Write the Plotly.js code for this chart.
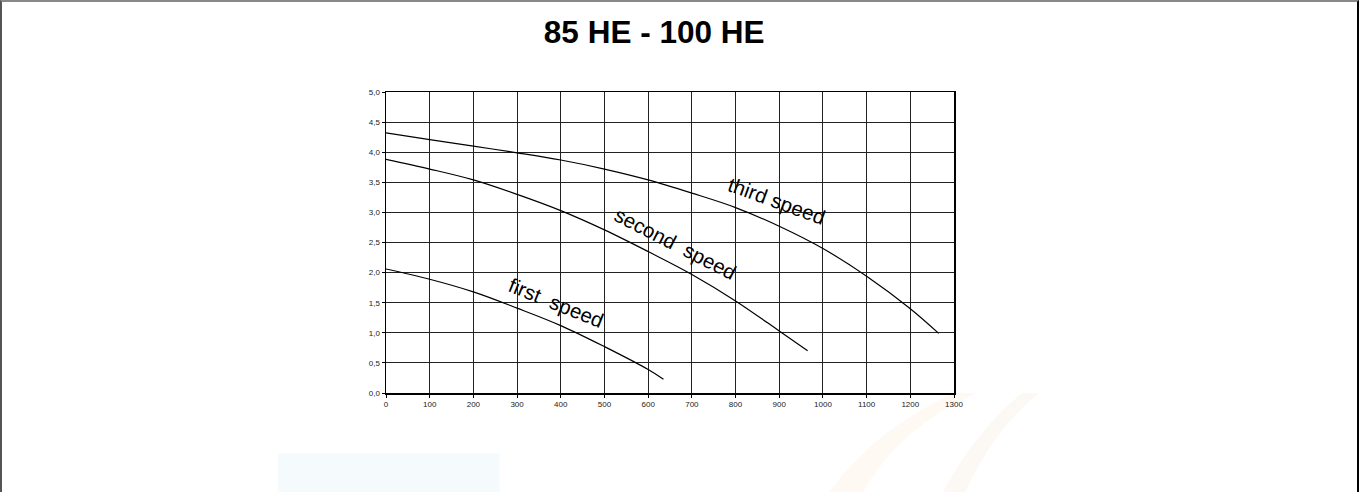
<!DOCTYPE html>
<html>
<head>
<meta charset="utf-8">
<script src="https://cdn.plot.ly/plotly-3.0.1.min.js"></script>
<style>
  html, body { margin: 0; padding: 0; background: #fff; }
  #frame { position: absolute; left: 0; top: 0; width: 1360px; height: 492px; overflow: hidden; }
  #border { position: absolute; left: 0px; top: 0px; width: 1359px; height: 500px;
            border-left: 2px solid #555; border-top: 2px solid #888; border-right: 2px solid #000; box-sizing: border-box; pointer-events: none; }
  #chart { position: absolute; left: 0; top: 0; width: 1360px; height: 492px; }
</style>
</head>
<body>
<div id="frame">
  <div id="chart"></div>
  <div id="border"></div>
</div>
<script>
// Flow (x) vs head (y) for three speeds
const firstSpeedX  = [0, 100, 200, 300, 400, 500, 600, 635];
const firstSpeedY  = [2.06, 1.89, 1.68, 1.41, 1.12, 0.77, 0.39, 0.23];
const secondSpeedX = [0, 100, 200, 300, 400, 500, 600, 700, 800, 900, 965];
const secondSpeedY = [3.88, 3.72, 3.54, 3.30, 3.03, 2.71, 2.35, 1.97, 1.53, 1.03, 0.70];
const thirdSpeedX  = [0, 100, 200, 300, 400, 500, 600, 700, 800, 900, 1000, 1100, 1200, 1265];
const thirdSpeedY  = [4.32, 4.21, 4.10, 3.99, 3.87, 3.72, 3.54, 3.32, 3.08, 2.77, 2.40, 1.94, 1.40, 0.99];
const seriesNames  = ["first speed", "second speed", "third speed"];
const xTicks = [0, 100, 200, 300, 400, 500, 600, 700, 800, 900, 1000, 1100, 1200, 1300];
const yTicks = [0, 0.5, 1, 1.5, 2, 2.5, 3, 3.5, 4, 4.5, 5];
const chartTitle = "85 HE - 100 HE";

const lineStyle = {color: "#000", width: 1.2, shape: "spline", smoothing: 1};
const traces = [
  {x: firstSpeedX, y: firstSpeedY, name: seriesNames[0], mode: "lines", line: lineStyle, hoverinfo: "skip"},
  {x: secondSpeedX, y: secondSpeedY, name: seriesNames[1], mode: "lines", line: lineStyle, hoverinfo: "skip"},
  {x: thirdSpeedX, y: thirdSpeedY, name: seriesNames[2], mode: "lines", line: lineStyle, hoverinfo: "skip"}
];

const labelFont = {family: "Liberation Sans, Arial, sans-serif", size: 20.5, color: "#000"};
const tickFont = {family: "Liberation Sans, Arial, sans-serif", size: 8, color: "#222"};

const layout = {
  width: 1360, height: 492,
  margin: {l: 386, r: 406, t: 92, b: 99, pad: 0},
  paper_bgcolor: "rgba(0,0,0,0)",
  plot_bgcolor: "rgba(0,0,0,0)",
  showlegend: false,
  separators: ", ",
  title: {text: "<b>" + chartTitle + "</b>", x: 0.481, xanchor: "center", y: 0.935, yanchor: "middle",
          font: {family: "Liberation Sans, Arial, sans-serif", size: 31.5, color: "#000"}},
  xaxis: {range: [0, 1300], tickvals: xTicks, ticks: "outside", ticklen: 3, tickcolor: "#000",
          showgrid: true, gridcolor: "#222", gridwidth: 1, zeroline: false,
          showline: true, linecolor: "#000", linewidth: 1.5, mirror: true,
          tickfont: tickFont, fixedrange: true},
  yaxis: {range: [0, 5], tickvals: yTicks, tickformat: ".1f", ticks: "outside", ticklen: 3, tickcolor: "#000",
          showgrid: true, gridcolor: "#222", gridwidth: 1, zeroline: false,
          showline: true, linecolor: "#000", linewidth: 1.5, mirror: true,
          tickfont: tickFont, fixedrange: true},
  annotations: [
    {x: 389, y: 1.50, xref: "x", yref: "y", text: seriesNames[0].replace(" ", "&nbsp;&nbsp;"), showarrow: false, textangle: 22, font: labelFont},
    {x: 663, y: 2.49, xref: "x", yref: "y", text: seriesNames[1].replace(" ", "&nbsp;&nbsp;"), showarrow: false, textangle: 27, font: labelFont},
    {x: 893, y: 3.19, xref: "x", yref: "y", text: seriesNames[2], showarrow: false, textangle: 20, font: labelFont}
  ],
  shapes: [
    {type: "rect", xref: "paper", yref: "paper", layer: "below",
     x0: -0.19, x1: 0.2, y0: -0.34, y1: -0.2, line: {width: 0}, fillcolor: "rgba(235,245,252,0.5)"},
    {type: "path", xref: "paper", yref: "paper", layer: "below",
     path: "M 0.78 -0.33 Q 0.86 -0.12 1.0 0.0 L 1.04 0.0 Q 0.9 -0.12 0.84 -0.33 Z",
     line: {width: 0}, fillcolor: "rgba(250,225,190,0.18)"},
    {type: "path", xref: "paper", yref: "paper", layer: "below",
     path: "M 0.98 -0.33 Q 1.04 -0.12 1.12 0.0 L 1.15 0.0 Q 1.07 -0.12 1.02 -0.33 Z",
     line: {width: 0}, fillcolor: "rgba(240,220,200,0.18)"}
  ]
};

Plotly.newPlot("chart", traces, layout, {displayModeBar: false, staticPlot: true});
</script>
</body>
</html>
